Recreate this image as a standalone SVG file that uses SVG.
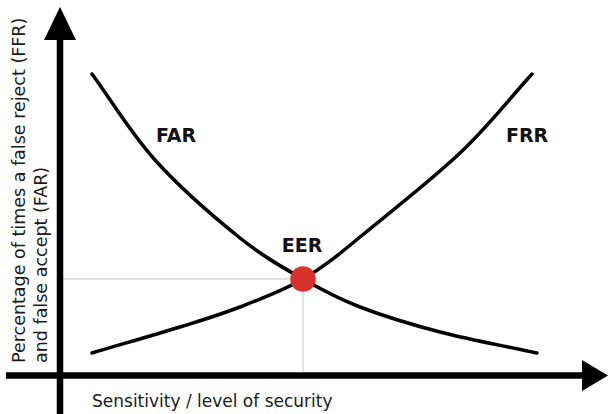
<svg xmlns="http://www.w3.org/2000/svg" width="610" height="414" viewBox="0 0 610 414">
  <style>
    .axis { stroke: #000; stroke-width: 6.5; fill: none; }
    .head { fill: #000; }
    .guide { stroke: #c8c8c8; stroke-width: 1; fill: none; }
    .curve { stroke: #000; stroke-width: 3.5; fill: none; stroke-linecap: round; }
    .lbl { font-family: "DejaVu Sans", "Liberation Sans", sans-serif; font-size: 17px; fill: #1a1a1a; }
    .ylbl { font-size: 17.5px; }
    .big { font-family: "DejaVu Sans", "Liberation Sans", sans-serif; font-size: 19px; font-weight: bold; fill: #111; }
  </style>
  <rect width="610" height="414" fill="#fff"/>
  <g id="guides">
    <line class="guide" x1="63" y1="279" x2="303" y2="279"/>
    <line class="guide" x1="303" y1="279" x2="303" y2="372"/>
  </g>
  <g id="axes">
    <line class="axis" x1="60" y1="414" x2="60" y2="38"/>
    <polygon class="head" points="60,7 44,40 76,40"/>
    <line class="axis" x1="6" y1="375.5" x2="584" y2="375.5"/>
    <polygon class="head" points="608,375.5 582,360 582,391"/>
  </g>
  <g id="connectors">
    <path id="far-curve" class="curve" d="M92,74 C113,102.7 130.3,132.7 155,160 C179.7,187.3 215.3,218.2 240,238 C264.7,257.8 283,267.5 303,279 C323,290.5 337.2,298.2 360,307 C382.8,315.8 410.5,324.3 440,332 C469.5,339.7 504.7,346 537,353"/>
    <path id="frr-curve" class="curve" d="M92,353 C121.3,344.3 155.3,334.7 180,327 C204.7,319.3 219.5,315 240,307 C260.5,299 283,290.7 303,279 C323,267.3 336,257 360,237 C386,215.5 431.3,180.2 460,153 C488.7,125.8 508,100.3 532,74"/>
  </g>
  <g id="eer">
    <circle cx="303" cy="279" r="12.8" fill="#d9312b"/>
    <text class="big" x="302" y="252" text-anchor="middle">EER</text>
  </g>
  <g id="far-label">
    <text class="big" x="156" y="142">FAR</text>
  </g>
  <g id="frr-label">
    <text class="big" x="506" y="142">FRR</text>
  </g>
  <g id="y-label">
    <text class="lbl ylbl" transform="translate(25,363) rotate(-90)">Percentage of times a false reject (FFR)</text>
    <text class="lbl ylbl" transform="translate(46.5,363) rotate(-90)">and false accept (FAR)</text>
  </g>
  <g id="x-label">
    <text class="lbl" x="92" y="406.5">Sensitivity / level of security</text>
  </g>
</svg>
